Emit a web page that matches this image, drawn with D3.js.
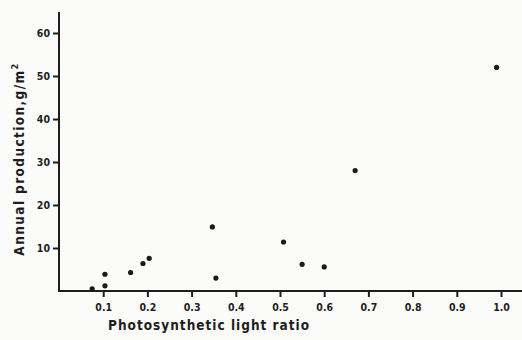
<!DOCTYPE html>
<html>
<head>
<meta charset="utf-8">
<script src="https://cdn.jsdelivr.net/npm/d3@7"></script>
<style>
  body { margin: 0; background: #fbfbfa; }
  text { font-family: "DejaVu Sans Condensed", "DejaVu Sans", sans-serif; font-weight: bold; fill: #1e1e1e; }
</style>
</head>
<body>
<svg width="522" height="340"></svg>
<script>
// light ratio vs annual production
var lightRatio = [0.075, 0.104, 0.104, 0.162, 0.19, 0.204, 0.347, 0.355, 0.508, 0.55, 0.6, 0.67, 0.99];
var production = [0.5, 3.9, 1.2, 4.3, 6.4, 7.6, 14.9, 3.0, 11.4, 6.2, 5.6, 28.0, 52.0];
var xTicks = [0.1, 0.2, 0.3, 0.4, 0.5, 0.6, 0.7, 0.8, 0.9, 1.0];
var yTicks = [10, 20, 30, 40, 50, 60];

var svg = d3.select('svg');

var scaleX = d3.scaleLinear().domain([0, 1]).range([59, 501]);
var scaleY = d3.scaleLinear().domain([0, 60]).range([291, 33]);

var points = lightRatio.map(function(d, i){
  return { x: d, y: production[i] };
});

// x axis
var xAxis = svg.append('g')
  .attr('transform', 'translate(0,291)')
  .call(d3.axisBottom(scaleX).tickValues(xTicks).tickFormat(d3.format('.1f')).tickSize(6).tickSizeOuter(0));
xAxis.select('.domain').remove();
xAxis.append('line')
  .attr('x1', 58).attr('x2', 522)
  .attr('stroke', '#1e1e1e').attr('stroke-width', 2);
xAxis.selectAll('.tick line').attr('stroke', '#1e1e1e').attr('stroke-width', 2);
xAxis.selectAll('.tick text')
  .attr('y', 13)
  .style('font-size', '10.5px')
  .attr('fill', '#1e1e1e');

// y axis
var yAxis = svg.append('g')
  .attr('transform', 'translate(59,0)')
  .call(d3.axisLeft(scaleY).tickValues(yTicks).tickSize(6).tickSizeOuter(0));
yAxis.select('.domain').remove();
yAxis.append('line')
  .attr('y1', 12).attr('y2', 292)
  .attr('stroke', '#1e1e1e').attr('stroke-width', 2);
yAxis.selectAll('.tick line').attr('stroke', '#1e1e1e').attr('stroke-width', 2);
yAxis.selectAll('.tick text')
  .attr('x', -9)
  .style('font-size', '10.5px')
  .attr('fill', '#1e1e1e');

// points
svg.selectAll('circle')
  .data(points)
  .enter()
  .append('circle')
  .attr('cx', function(d){ return scaleX(d.x); })
  .attr('cy', function(d){ return scaleY(d.y); })
  .attr('r', 2.6)
  .attr('fill', '#1a1a1a');

// labels
svg.append('text')
  .attr('x', 108)
  .attr('y', 330)
  .style('font-size', '13.5px')
  .style('letter-spacing', '1px')
  .text('Photosynthetic light ratio');

svg.append('text')
  .attr('transform', 'translate(24,159) rotate(-90)')
  .attr('text-anchor', 'middle')
  .style('font-size', '13.5px')
  .style('letter-spacing', '1.4px')
  .html('Annual production,g/m<tspan dy="-6" font-size="9px">2</tspan>');
</script>
</body>
</html>
